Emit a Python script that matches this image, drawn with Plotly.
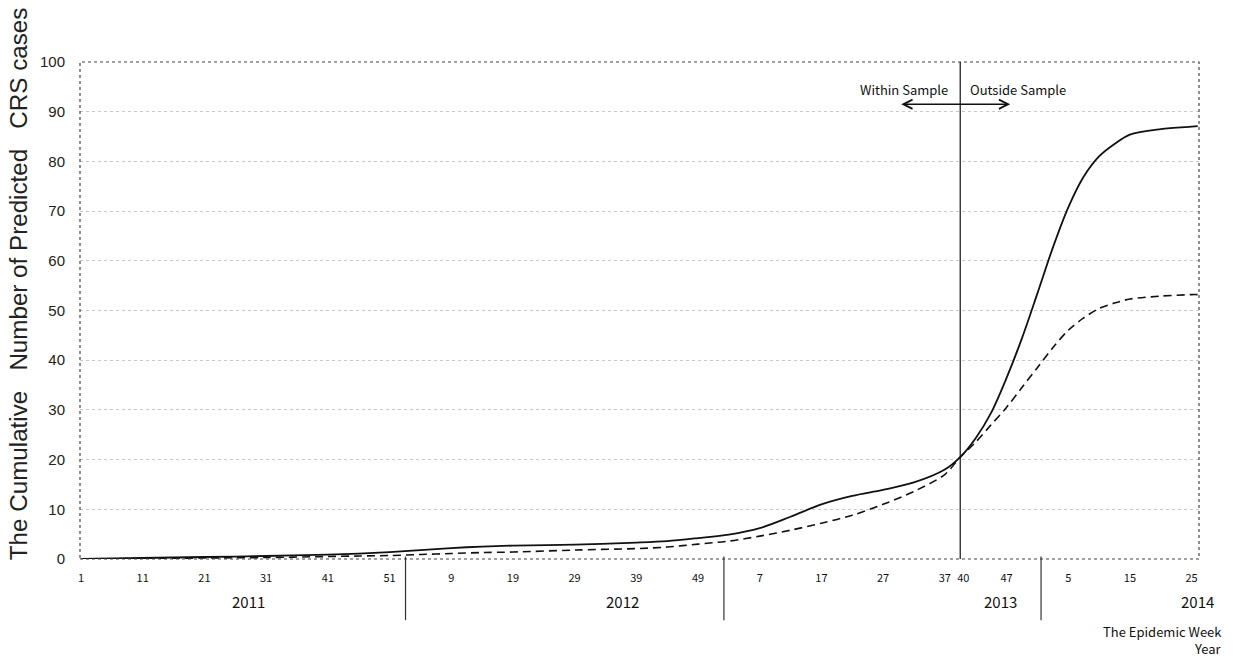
import plotly.graph_objects as go

# Sequential epidemic-week index (0 = week 1 of 2011)
week_index = [0, 10, 20, 30, 40, 45, 50, 55, 60, 65, 70, 80, 90, 95, 100, 105, 110, 115,
              120, 125, 130, 135, 140, 142.5, 145, 147.5, 150, 152.5, 155, 157.5, 160,
              162.5, 165, 167.5, 170, 175, 180, 181]
solid_values = [0, 0.2, 0.4, 0.6, 0.9, 1.1, 1.4, 1.8, 2.2, 2.5, 2.7, 2.9, 3.3, 3.6, 4.2, 4.9,
                6.2, 8.5, 11.0, 12.7, 13.9, 15.4, 18.0, 20.5, 24.3, 29.4, 36.4, 44.4, 53.4,
                62.6, 70.7, 76.9, 81.0, 83.5, 85.4, 86.5, 87.0, 87.1]
dashed_values = [0, 0.1, 0.2, 0.3, 0.5, 0.6, 0.7, 0.9, 1.1, 1.3, 1.4, 1.8, 2.1, 2.4, 3.0, 3.6,
                 4.6, 5.8, 7.2, 8.8, 11.0, 13.6, 17.0, 20.5, 23.5, 27.0, 30.5, 34.5, 38.5,
                 42.5, 46.0, 48.5, 50.4, 51.5, 52.3, 52.9, 53.2, 53.2]

tick_index = [0, 10, 20, 30, 40, 50, 60, 70, 80, 90, 100, 110, 120, 130, 140, 143, 150, 160, 170, 180]
tick_labels = ["1", "11", "21", "31", "41", "51", "9", "19", "29", "39", "49",
               "7", "17", "27", "37", "40", "47", "5", "15", "25"]

years = ["2011", "2012", "2013", "2014"]
year_label_index = [27.2, 87.7, 149.0, 180.9]
year_dividers = [52.6, 104.2, 155.6]
sample_split = 142.5

fig = go.Figure()
fig.add_trace(go.Scatter(x=week_index, y=solid_values, mode="lines",
                         line=dict(color="#111111", width=1.8, shape="spline", smoothing=0.9),
                         showlegend=False))
fig.add_trace(go.Scatter(x=week_index, y=dashed_values, mode="lines",
                         line=dict(color="#111111", width=1.6, dash="8px,5px",
                                   shape="spline", smoothing=0.9),
                         showlegend=False))

label_font = "Noto Sans CJK JP"

fig.update_layout(
    width=1236, height=658,
    margin=dict(l=80, r=37, t=62, b=99),
    paper_bgcolor="white", plot_bgcolor="white",
    xaxis=dict(range=[-0.16, 181.2], tickmode="array", tickvals=tick_index,
               ticktext=tick_labels, showgrid=False, zeroline=False, showline=False,
               ticks="", ticklabelstandoff=11,
               tickfont=dict(family=label_font, size=11, color="#111")),
    yaxis=dict(range=[0, 100], tickvals=list(range(0, 101, 10)), showgrid=True,
               gridcolor="#c8c8c8", griddash="dot", gridwidth=1, zeroline=False,
               showline=False, ticks="", ticklabelstandoff=14,
               tickfont=dict(family="Liberation Sans", size=15, color="#222")),
)

# plot border (dotted)
fig.add_shape(type="rect", xref="paper", yref="paper", x0=0, x1=1, y0=0, y1=1,
              line=dict(color="#444", width=1.2, dash="dot"), layer="above")

# sample split line
fig.add_shape(type="line", xref="x", yref="paper", x0=sample_split, x1=sample_split,
              y0=0, y1=1, line=dict(color="#111", width=1.2))

# year dividers below the axis
for d in year_dividers:
    fig.add_shape(type="line", xref="x", yref="paper", x0=d, x1=d, y0=0.005, y1=-0.123,
                  line=dict(color="#333", width=1.2))

for yl, xi in zip(years, year_label_index):
    fig.add_annotation(x=xi, y=-0.085, xref="x", yref="paper", text=yl, showarrow=False,
                       xanchor="center", yanchor="middle",
                       font=dict(family=label_font, size=15, color="#111"))

# Within / Outside sample labels and arrow
fig.add_annotation(x=sample_split - 1.6, y=94.4, xref="x", yref="y", text="Within Sample",
                   xanchor="right", yanchor="middle", showarrow=False,
                   font=dict(family=label_font, size=13, color="#111"))
fig.add_annotation(x=sample_split + 1.3, y=94.4, xref="x", yref="y", text="Outside Sample",
                   xanchor="left", yanchor="middle", showarrow=False,
                   font=dict(family=label_font, size=13, color="#111"))
fig.add_annotation(x=150.6, y=91.5, ax=132.7, ay=91.5, xref="x", yref="y",
                   axref="x", ayref="y", text="", showarrow=True, arrowside="end+start",
                   arrowhead=5, startarrowhead=5, arrowsize=1.3, startarrowsize=1.3,
                   arrowwidth=1.4, arrowcolor="#111")

# y axis title
fig.add_annotation(x=-0.0554, y=0.553, xref="paper", yref="paper",
                   text="The Cumulative   Number of Predicted   CRS cases",
                   textangle=-90, showarrow=False, xanchor="center", yanchor="middle",
                   font=dict(family="Liberation Sans", size=24.2, color="#222"))

fig.add_annotation(x=1.0223, y=-0.145, xref="paper", yref="paper", text="The Epidemic Week",
                   xanchor="right", yanchor="middle", showarrow=False,
                   font=dict(family=label_font, size=13, color="#111"))
fig.add_annotation(x=1.0223, y=-0.18, xref="paper", yref="paper", text="Year",
                   xanchor="right", yanchor="middle", showarrow=False,
                   font=dict(family=label_font, size=13, color="#111"))

fig.write_html("out.html", config={"displayModeBar": False},
               post_script="document.body.style.margin='0';document.body.style.overflow='hidden';")
